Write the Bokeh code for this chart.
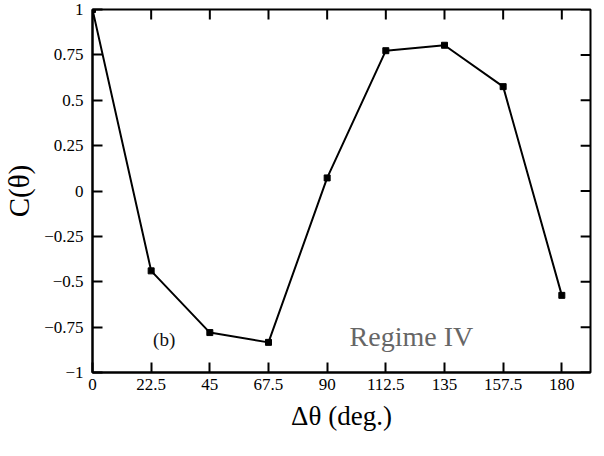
from bokeh.plotting import figure
from bokeh.models import Range1d, FixedTicker, Label
from bokeh.embed import file_html
from bokeh.resources import INLINE

# data
angles = [0, 22.5, 45, 67.5, 90, 112.5, 135, 157.5, 180]
corr = [1.0, -0.44, -0.78, -0.834, 0.072, 0.773, 0.803, 0.575, -0.575]

x_ticks = [0, 22.5, 45, 67.5, 90, 112.5, 135, 157.5, 180]
x_tick_labels = ["0", "22.5", "45", "67.5", "90", "112.5", "135", "157.5", "180"]
y_ticks = [1, 0.75, 0.5, 0.25, 0, -0.25, -0.5, -0.75, -1]
y_tick_labels = ["1", "0.75", "0.5", "0.25", "0", "\u22120.25", "\u22120.5", "\u22120.75", "\u22121"]

FONT = "Liberation Serif"
X_MIN, X_MAX = 0, 191
Y_MIN, Y_MAX = -1, 1

W, H = 594, 440
BL, BR, BT, BB = 84, 4, 9, 68

p = figure(width=W, height=H, output_backend="svg", toolbar_location=None,
           x_range=Range1d(X_MIN, X_MAX), y_range=Range1d(Y_MIN, Y_MAX),
           min_border_left=BL, min_border_right=BR, min_border_top=BT, min_border_bottom=BB,
           x_axis_label="\u0394\u03b8 (deg.)", y_axis_label="C(\u03b8)")
p.grid.visible = False
p.outline_line_color = "black"
p.outline_line_width = 2
p.background_fill_color = "white"
p.border_fill_color = "white"

def style_axis(ax, ticks, labels):
    ax.ticker = FixedTicker(ticks=ticks)
    ax.major_label_overrides = {t: l for t, l in zip(ticks, labels)}
    ax.minor_tick_line_color = None
    ax.major_tick_line_color = "black"
    ax.major_tick_line_width = 2
    ax.major_tick_in = 10
    ax.major_tick_out = 0
    ax.minor_tick_in = 0
    ax.minor_tick_out = 0
    ax.axis_line_width = 2
    ax.axis_line_color = "black"
    ax.major_label_text_font = FONT
    ax.major_label_text_color = "black"
    ax.major_label_text_font_size = "17px"

xa = p.xaxis[0]
ya = p.yaxis[0]
style_axis(xa, x_ticks, x_tick_labels)
style_axis(ya, y_ticks, y_tick_labels)
xa.major_label_standoff = 6
ya.major_label_standoff = 9
xa.axis_label_text_font = FONT
xa.axis_label_text_font_size = "27px"
xa.axis_label_text_font_style = "normal"
xa.axis_label_text_color = "black"
xa.axis_label_standoff = 8
ya.axis_label_text_font = FONT
ya.axis_label_text_font_size = "29px"
ya.axis_label_text_font_style = "normal"
ya.axis_label_text_color = "black"
ya.axis_label_standoff = 6

# inward tick marks on the top and right sides of the box
TICK_PX = 10
frame_w = W - BL - BR
frame_h = H - BT - BB
dx = TICK_PX * (X_MAX - X_MIN) / frame_w
dy = TICK_PX * (Y_MAX - Y_MIN) / frame_h
nx, ny = len(x_ticks), len(y_ticks)
p.segment(x0=x_ticks, y0=[Y_MAX] * nx, x1=x_ticks, y1=[Y_MAX - dy] * nx,
          line_color="black", line_width=2)
p.segment(x0=[X_MAX] * ny, y0=y_ticks, x1=[X_MAX - dx] * ny, y1=y_ticks,
          line_color="black", line_width=2)

p.line(angles, corr, line_color="black", line_width=2)
p.scatter(angles, corr, marker="square", size=6, fill_color="black", line_color="black")

p.add_layout(Label(x=27.5, y=-0.82, text="(b)", text_font=FONT, text_font_size="19px",
                   text_color="#111111", text_align="center", text_baseline="middle"))
p.add_layout(Label(x=122.3, y=-0.80, text="Regime IV", text_font=FONT, text_font_size="28px",
                   text_color="#666666", text_align="center", text_baseline="middle"))

open("out.html", "w").write(file_html(p, INLINE))
